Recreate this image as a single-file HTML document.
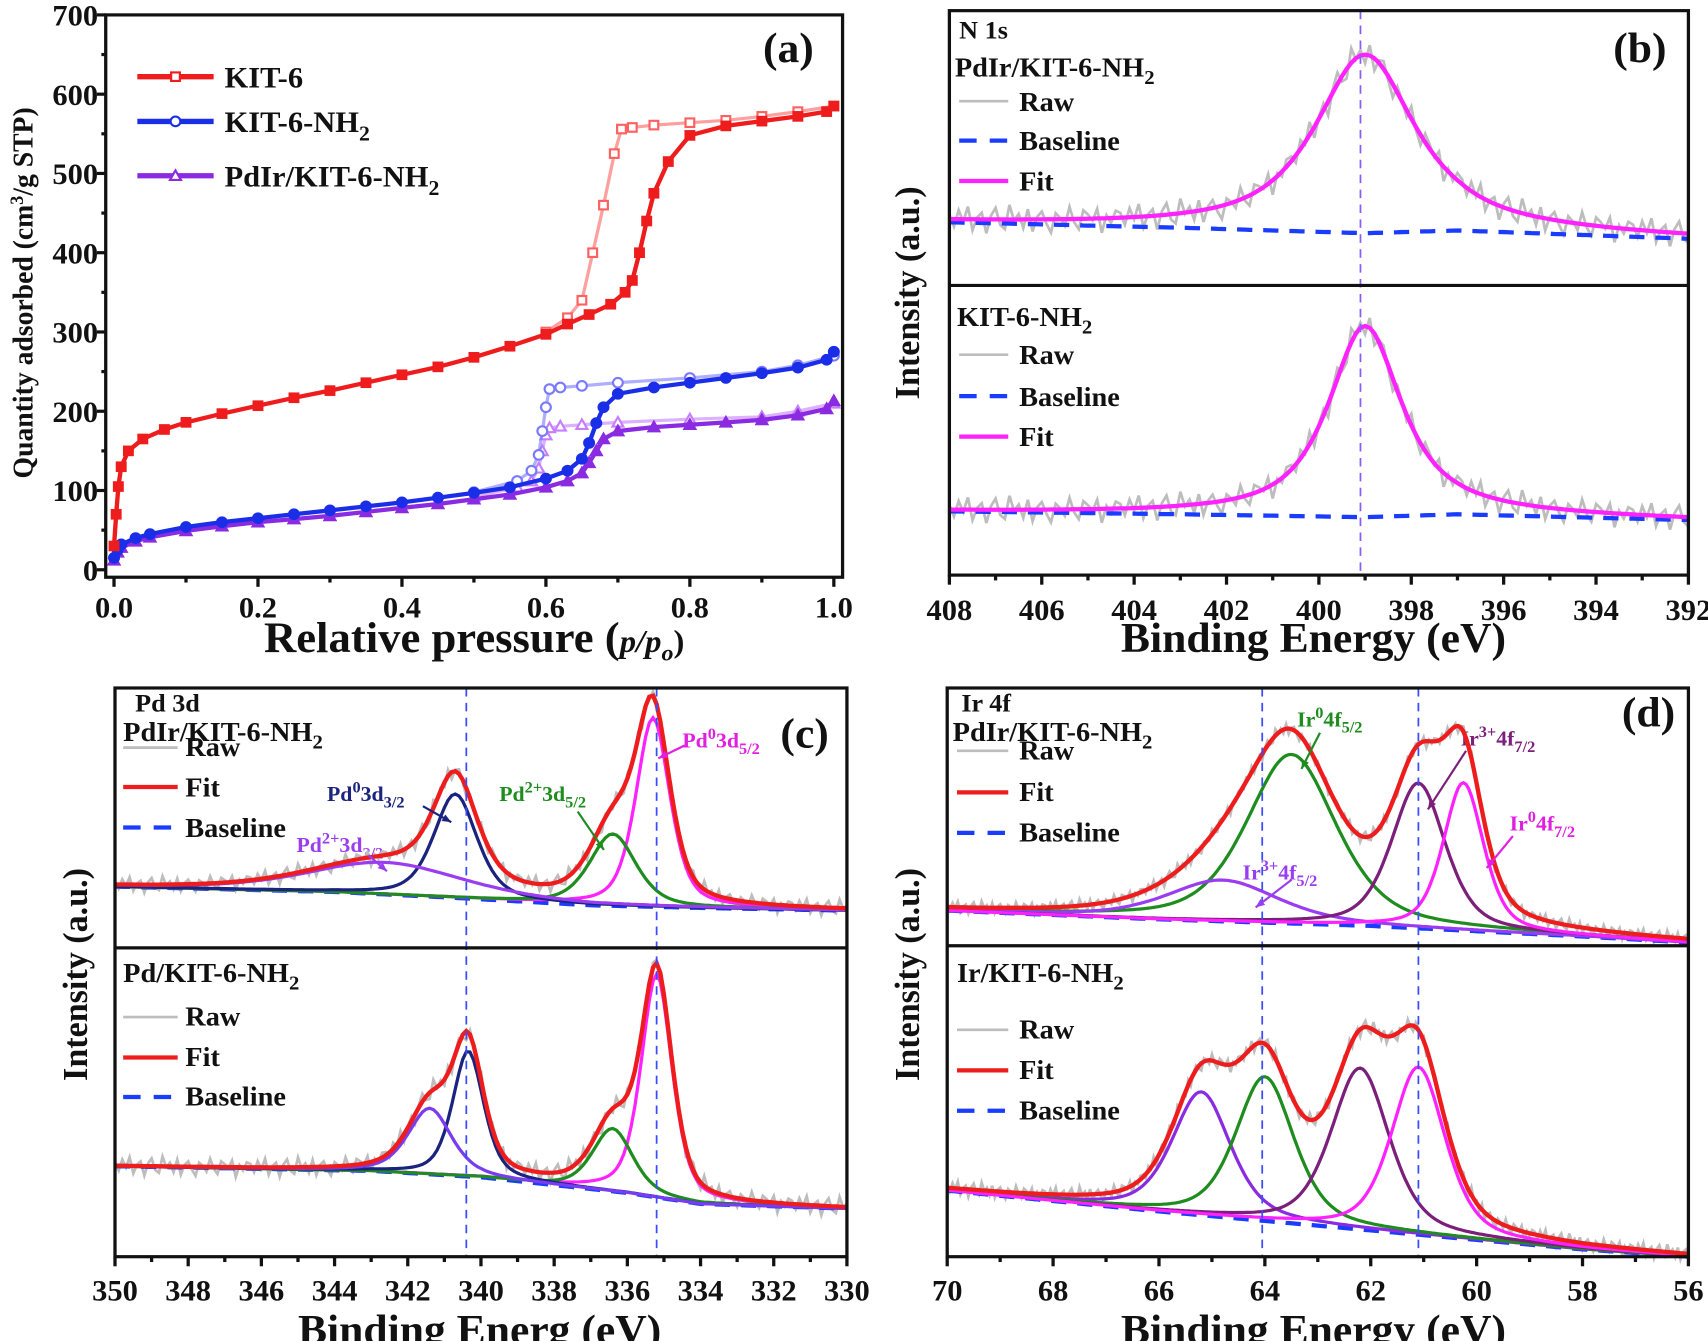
<!DOCTYPE html>
<html><head><meta charset="utf-8"><title>Figure</title>
<style>
html,body{margin:0;padding:0;background:#fff;}
svg{display:block;}
text{font-family:"Liberation Serif",serif;font-weight:bold;fill:#111;}
</style></head>
<body>
<svg id="svgroot" width="1708" height="1341" viewBox="0 0 1708 1341" xmlns="http://www.w3.org/2000/svg">
<g id="fig" transform="scale(1.09,1.065)">

<!-- Panel a static text -->
<text x="30" y="275" font-size="26" text-anchor="middle" transform="rotate(-90 30 275)">Quantity adsorbed (cm<tspan dy="-9" font-size="17">3</tspan><tspan dy="9">/g STP)</tspan></text>
<text x="435" y="612" font-size="41" text-anchor="middle">Relative pressure (<tspan font-style="italic" font-size="30">p/p</tspan><tspan font-style="italic" font-size="22" dy="8">o</tspan><tspan dy="-8" font-size="30">)</tspan></text>
<text x="700" y="58" font-size="40">(a)</text>
<text x="206" y="82" font-size="28">KIT-6</text>
<text x="206" y="124" font-size="28">KIT-6-NH<tspan dy="8" font-size="20">2</tspan></text>
<text x="206" y="175" font-size="28">PdIr/KIT-6-NH<tspan dy="8" font-size="20">2</tspan></text>

<!-- Panel b static text -->
<text x="843" y="275" font-size="32" text-anchor="middle" transform="rotate(-90 843 275)">Intensity (a.u.)</text>
<text x="1205" y="612" font-size="40" text-anchor="middle">Binding Energy (eV)</text>
<text x="1480" y="58" font-size="40">(b)</text>
<text x="880" y="36" font-size="24">N 1s</text>
<text x="876" y="72" font-size="26">PdIr/KIT-6-NH<tspan dy="7" font-size="19">2</tspan></text>
<text x="935" y="104" font-size="26">Raw</text>
<text x="935" y="141" font-size="26">Baseline</text>
<text x="935" y="179" font-size="26">Fit</text>
<text x="878" y="306" font-size="26">KIT-6-NH<tspan dy="7" font-size="19">2</tspan></text>
<text x="935" y="342" font-size="26">Raw</text>
<text x="935" y="381" font-size="26">Baseline</text>
<text x="935" y="419" font-size="26">Fit</text>

<!-- Panel c static text -->
<text x="80" y="915" font-size="32" text-anchor="middle" transform="rotate(-90 80 915)">Intensity (a.u.)</text>
<text x="440" y="1262" font-size="40" text-anchor="middle">Binding Energ (eV)</text>
<text x="716" y="702" font-size="40">(c)</text>
<text x="124" y="668" font-size="24">Pd 3d</text>
<text x="113" y="696" font-size="26">PdIr/KIT-6-NH<tspan dy="7" font-size="19">2</tspan></text>
<text x="170" y="710" font-size="26">Raw</text>
<text x="170" y="748" font-size="26">Fit</text>
<text x="170" y="786" font-size="26">Baseline</text>
<text x="113" y="922" font-size="26">Pd/KIT-6-NH<tspan dy="7" font-size="19">2</tspan></text>
<text x="170" y="963" font-size="26">Raw</text>
<text x="170" y="1001" font-size="26">Fit</text>
<text x="170" y="1038" font-size="26">Baseline</text>
<text x="300" y="752" font-size="20" style="fill:#1a237e">Pd<tspan dy="-8" font-size="15">0</tspan><tspan dy="8">3d</tspan><tspan dy="6" font-size="15">3/2</tspan></text>
<text x="272" y="800" font-size="20" style="fill:#9a3cf0">Pd<tspan dy="-8" font-size="15">2+</tspan><tspan dy="8">3d</tspan><tspan dy="6" font-size="15">3/2</tspan></text>
<text x="458" y="752" font-size="20" style="fill:#1e8c1e">Pd<tspan dy="-8" font-size="15">2+</tspan><tspan dy="8">3d</tspan><tspan dy="6" font-size="15">5/2</tspan></text>
<text x="626" y="702" font-size="20" style="fill:#e020e0">Pd<tspan dy="-8" font-size="15">0</tspan><tspan dy="8">3d</tspan><tspan dy="6" font-size="15">5/2</tspan></text>

<!-- Panel d static text -->
<text x="843" y="915" font-size="32" text-anchor="middle" transform="rotate(-90 843 915)">Intensity (a.u.)</text>
<text x="1205" y="1262" font-size="40" text-anchor="middle">Binding Energy (eV)</text>
<text x="1488" y="682" font-size="40">(d)</text>
<text x="882" y="668" font-size="24">Ir 4f</text>
<text x="874" y="696" font-size="26">PdIr/KIT-6-NH<tspan dy="7" font-size="19">2</tspan></text>
<text x="935" y="713" font-size="26">Raw</text>
<text x="935" y="752" font-size="26">Fit</text>
<text x="935" y="790" font-size="26">Baseline</text>
<text x="878" y="922" font-size="26">Ir/KIT-6-NH<tspan dy="7" font-size="19">2</tspan></text>
<text x="935" y="975" font-size="26">Raw</text>
<text x="935" y="1013" font-size="26">Fit</text>
<text x="935" y="1051" font-size="26">Baseline</text>
<text x="1190" y="682" font-size="20" style="fill:#1e8c1e">Ir<tspan dy="-8" font-size="15">0</tspan><tspan dy="8">4f</tspan><tspan dy="6" font-size="15">5/2</tspan></text>
<text x="1140" y="826" font-size="20" style="fill:#9a3cf0">Ir<tspan dy="-8" font-size="15">3+</tspan><tspan dy="8">4f</tspan><tspan dy="6" font-size="15">5/2</tspan></text>
<text x="1340" y="700" font-size="20" style="fill:#7b1f7b">Ir<tspan dy="-8" font-size="15">3+</tspan><tspan dy="8">4f</tspan><tspan dy="6" font-size="15">7/2</tspan></text>
<text x="1385" y="780" font-size="20" style="fill:#e020e0">Ir<tspan dy="-8" font-size="15">0</tspan><tspan dy="8">4f</tspan><tspan dy="6" font-size="15">7/2</tspan></text>
</g>
</svg>

<script>
// ---------- Panel (a) data ----------
const kit6AdsP = [0,0.003,0.006,0.01,0.02,0.04,0.07,0.1,0.15,0.2,0.25,0.3,0.35,0.4,0.45,0.5,0.55,0.6,0.63,0.66,0.69,0.71,0.72,0.73,0.74,0.75,0.77,0.8,0.85,0.9,0.95,0.99,1.0];
const kit6AdsQ = [30,70,105,130,150,165,177,186,197,207,217,226,236,246,256,268,282,297,310,322,335,350,365,400,440,475,515,548,560,566,572,578,585];
const kit6DesP = [1.0,0.95,0.9,0.85,0.8,0.75,0.72,0.705,0.695,0.68,0.665,0.65,0.63,0.6];
const kit6DesQ = [585,578,572,567,564,561,558,556,525,460,400,340,318,300];
const nh2AdsP = [0,0.005,0.01,0.03,0.05,0.1,0.15,0.2,0.25,0.3,0.35,0.4,0.45,0.5,0.55,0.6,0.63,0.65,0.66,0.67,0.68,0.7,0.75,0.8,0.85,0.9,0.95,0.99,1.0];
const nh2AdsQ = [15,25,32,40,45,54,60,65,70,75,80,85,91,97,104,115,125,140,160,185,205,222,230,236,242,248,255,265,275];
const nh2DesP = [1.0,0.95,0.9,0.8,0.7,0.65,0.62,0.605,0.6,0.595,0.59,0.58,0.56,0.5];
const nh2DesQ = [270,258,250,242,236,232,230,228,205,175,145,125,112,98];
const pdirAdsP = [0,0.005,0.01,0.03,0.05,0.1,0.15,0.2,0.25,0.3,0.35,0.4,0.45,0.5,0.55,0.6,0.63,0.65,0.66,0.67,0.68,0.7,0.75,0.8,0.85,0.9,0.95,0.99,1.0];
const pdirAdsQ = [12,22,28,36,41,49,55,60,64,68,73,78,83,89,95,104,112,122,135,150,165,175,180,183,186,189,195,203,213];
const pdirDesP = [1.0,0.95,0.9,0.8,0.7,0.65,0.62,0.605,0.6,0.595,0.59,0.58,0.56,0.5];
const pdirDesQ = [210,200,193,190,186,183,181,179,170,150,128,112,104,92];
const aXTicks = ["0.0","0.2","0.4","0.6","0.8","1.0"];
const aYTicks = ["0","100","200","300","400","500","600","700"];

// ---------- Panel (b) data (N 1s) ----------
const bTopCenters = [399.0];
const bTopHeights = [65];
const bTopWidths = [2.6];
const bTopBaseE = [408,403,399,397,392];
const bTopBaseI = [23,21,19,20,17];
const bBotCenters = [399.0];
const bBotHeights = [66];
const bBotWidths = [1.9];
const bBotBaseE = [408,403,399,397,392];
const bBotBaseI = [22,21,20,21,19];
const bTicks = ["408","406","404","402","400","398","396","394","392"];

// ---------- Panel (c) data (Pd 3d) ----------
const cTopCenters = [335.3,336.4,340.7,342.6];
const cTopHeights = [71,27,39,12];
const cTopWidths = [1.1,1.5,1.4,5.0];
const cTopBaseE = [350,344,341,337,334,330];
const cTopBaseI = [23,21,19,16,15,14];
const cBotCenters = [335.2,336.4,340.35,341.4];
const cBotHeights = [71,20,40,21];
const cBotWidths = [1.0,1.3,1.0,1.4];
const cBotBaseE = [350,343,340,336,334,330];
const cBotBaseI = [30.5,29,27,22,18.5,17];
const cTicks = ["350","348","346","344","342","340","338","336","334","332","330"];

// ---------- Panel (d) data (Ir 4f) ----------
const dTopCenters = [63.5,64.8,61.1,60.25];
const dTopHeights = [64,15.6,55,56];
const dTopWidths = [2.0,2.5,1.2,0.9];
const dTopBaseE = [70,66,62,58,56];
const dTopBaseI = [13.3,10,7.5,3.5,1.2];
const dBotCenters = [65.2,64.0,62.2,61.1];
const dBotHeights = [39,45.6,51,53];
const dBotWidths = [1.3,1.3,1.3,1.2];
const dBotBaseE = [70,66,62,58,56];
const dBotBaseI = [22.6,16,10,4,1.7];
const dTicks = ["70","68","66","64","62","60","58","56"];

// hand-read noise offsets for raw spectra
const rawNoise = [0.8,-1.2,1.5,-0.4,2.1,-1.8,0.3,1.1,-2.3,0.6,1.9,-0.9,-1.6,2.4,-0.2,0.9,-1.4,1.7,-2.0,0.4,1.3,-0.7,-2.2,1.0,0.2,-1.1,2.0,-0.5,-1.7,1.4,0.7,-0.3,1.6,-2.4,0.5,-0.8,1.2];

const NS = 'http://www.w3.org/2000/svg';
const fig = document.getElementById('fig');
function mk(tag, attrs, parent) {
  const e = document.createElementNS(NS, tag);
  for (const k in attrs) e.setAttribute(k, attrs[k]);
  (parent || fig).appendChild(e);
  return e;
}
function interp(E, es, is) {
  for (let i = 0; i < es.length - 1; i++) {
    const a = es[i], b = es[i + 1];
    if ((E <= a && E >= b) || (E >= a && E <= b)) {
      const t = (E - a) / (b - a);
      return is[i] + t * (is[i + 1] - is[i]);
    }
  }
  return is[is.length - 1];
}
function pv(E, c, h, w, eta) {
  const d = (E - c) / w;
  return h * ((1 - eta) * Math.exp(-4 * Math.LN2 * d * d) + eta / (1 + 4 * d * d));
}

// ---------- Panel (a) ----------
const aL = 97, aT = 14, aR = 773, aB = 542;
function xa(p) { return 104.6 + p * 660.4; }
function ya(v) { return 535 - v * (521 / 700); }

const aFrame = mk('rect', {x: aL, y: aT, width: aR - aL, height: aB - aT, fill: 'none', stroke: '#111', 'stroke-width': 3});


for (let i = 0; i <= 10; i++) {
  const x = xa(i / 10);
  const t = mk('line', {x1: x, y1: aB, x2: x, y2: aB + (i % 2 === 0 ? 9 : 5), stroke: '#111', 'stroke-width': 3});
  
  
}
aXTicks.forEach((lab, i) => {
  const t = mk('text', {x: xa(i * 0.2), y: 580, 'font-size': 28, 'text-anchor': 'middle'});
  t.textContent = lab;
  
  
});
for (let i = 0; i <= 14; i++) {
  const y = ya(i * 50);
  const t = mk('line', {x1: aL, y1: y, x2: aL - (i % 2 === 0 ? 8 : 4), y2: y, stroke: '#111', 'stroke-width': 3});
  
  
}
aYTicks.forEach((lab, i) => {
  const t = mk('text', {x: 90, y: ya(i * 100) + 10, 'font-size': 28, 'text-anchor': 'end'});
  t.textContent = lab;
  
  
});

function marker(kind, cx, cy, color, filled, name) {
  let m;
  const fill = filled ? color : '#fff';
  if (kind === 'square') m = mk('rect', {x: cx - 4, y: cy - 4, width: 8, height: 8, fill: fill, stroke: color, 'stroke-width': 2});
  else if (kind === 'circle') m = mk('circle', {cx: cx, cy: cy, r: 4.5, fill: fill, stroke: color, 'stroke-width': 2});
  else m = mk('polygon', {points: `${cx},${cy - 5} ${cx + 5},${cy + 4} ${cx - 5},${cy + 4}`, fill: fill, stroke: color, 'stroke-width': 2});
  
  
}
function isoSeries(ps, qs, color, kind, filled, name) {
  const d = ps.map((p, i) => (i ? 'L' : 'M') + xa(p).toFixed(1) + ',' + ya(qs[i]).toFixed(1)).join('');
  const path = mk('path', {d: d, fill: 'none', stroke: color, 'stroke-width': filled ? 4 : 3, 'stroke-opacity': filled ? 1 : 0.6});
  
  
  ps.forEach((p, i) => marker(kind, xa(p), ya(qs[i]), color, filled, name + '-point'));
}
isoSeries(pdirDesP, pdirDesQ, '#c77dff', 'triangle', false, 'pdir-desorption');
isoSeries(nh2DesP, nh2DesQ, '#7a7aff', 'circle', false, 'kit6nh2-desorption');
isoSeries(kit6DesP, kit6DesQ, '#ff6060', 'square', false, 'kit6-desorption');
isoSeries(pdirAdsP, pdirAdsQ, '#8a2be2', 'triangle', true, 'pdir-adsorption');
isoSeries(nh2AdsP, nh2AdsQ, '#1a2ee8', 'circle', true, 'kit6nh2-adsorption');
isoSeries(kit6AdsP, kit6AdsQ, '#ee1c1c', 'square', true, 'kit6-adsorption');

[['#ee1c1c', 'square', 72, 'a-legend-kit6-swatch'], ['#1a2ee8', 'circle', 114, 'a-legend-kit6nh2-swatch'], ['#8a2be2', 'triangle', 165, 'a-legend-pdir-swatch']].forEach(s => {
  const l = mk('line', {x1: 126, y1: s[2], x2: 196, y2: s[2], stroke: s[0], 'stroke-width': 5});
  
  
  marker(s[1], 161, s[2], s[0], false, s[3] + '-marker');
});

// ---------- XPS helpers ----------
function xpsFrame(L, T, R, B, split, xmap, ticks, e0, e1, step, labY, prefix) {
  const f = mk('rect', {x: L, y: T, width: R - L, height: B - T, fill: 'none', stroke: '#111', 'stroke-width': 3});
  
  
  const s = mk('line', {x1: L, y1: split, x2: R, y2: split, stroke: '#111', 'stroke-width': 3});
  
  
  const n = Math.round(Math.abs(e1 - e0) / step);
  for (let i = 0; i <= n; i++) {
    const E = e0 - i * step;
    const x = xmap(E);
    const t = mk('line', {x1: x, y1: B, x2: x, y2: B + (i % 2 === 0 ? 9 : 5), stroke: '#111', 'stroke-width': 3});
    
    
  }
  ticks.forEach(lab => {
    const t = mk('text', {x: xmap(parseFloat(lab)), y: labY, 'font-size': 28, 'text-anchor': 'middle'});
    t.textContent = lab;
    
    
  });
}
function pathFrom(es, vals, xmap, ymap) {
  return es.map((E, i) => (i ? 'L' : 'M') + xmap(E).toFixed(1) + ',' + ymap(vals[i]).toFixed(1)).join('');
}
function xpsSub(cfg) {
  const es = [];
  for (let E = cfg.e0; E >= cfg.e1 - 1e-9; E -= cfg.step) es.push(E);
  const base = es.map(E => interp(E, cfg.baseE, cfg.baseI));
  const comps = cfg.centers.map((c, k) => es.map(E => pv(E, c, cfg.heights[k], cfg.widths[k], cfg.eta)));
  const fit = es.map((E, i) => base[i] + comps.reduce((s, cc) => s + cc[i], 0));
  const raw = fit.map((v, i) => v + rawNoise[i % rawNoise.length] * cfg.noise);
  const r = mk('path', {d: pathFrom(es, raw, cfg.xmap, cfg.ymap), fill: 'none', stroke: '#bdbdbd', 'stroke-width': 2.5});
  
  
  const b = mk('path', {d: pathFrom(es, base, cfg.xmap, cfg.ymap), fill: 'none', stroke: '#1a3cff', 'stroke-width': 4, 'stroke-dasharray': '14 10'});
  
  
  comps.forEach((cc, k) => {
    const vals = cc.map((v, i) => v + base[i]);
    const p = mk('path', {d: pathFrom(es, vals, cfg.xmap, cfg.ymap), fill: 'none', stroke: cfg.colors[k], 'stroke-width': 3});
    
    
  });
  const f = mk('path', {d: pathFrom(es, fit, cfg.xmap, cfg.ymap), fill: 'none', stroke: cfg.fitColor, 'stroke-width': 4});
  
  
}
function legendLines(x1, x2, ys, fitColor, order, prefix) {
  order.forEach((kind, i) => {
    let attrs = {x1: x1, y1: ys[i], x2: x2, y2: ys[i], 'stroke-width': kind === 'raw' ? 2.5 : 4};
    if (kind === 'raw') attrs.stroke = '#bdbdbd';
    else if (kind === 'fit') attrs.stroke = fitColor;
    else { attrs.stroke = '#1a3cff'; attrs['stroke-dasharray'] = '16 12'; }
    const l = mk('line', attrs);
    
    
  });
}
function vdash(x, y1, y2, color, name) {
  const l = mk('line', {x1: x, y1: y1, x2: x, y2: y2, stroke: color, 'stroke-width': 1.6, 'stroke-dasharray': '8 6'});
  
  
}
function arrow(x1, y1, x2, y2, color, name) {
  const l = mk('line', {x1: x1, y1: y1, x2: x2, y2: y2, stroke: color, 'stroke-width': 2});
  
  
  const a = Math.atan2(y2 - y1, x2 - x1), s = 9;
  const p = mk('polygon', {points: `${x2},${y2} ${x2 - s * Math.cos(a - 0.4)},${y2 - s * Math.sin(a - 0.4)} ${x2 - s * Math.cos(a + 0.4)},${y2 - s * Math.sin(a + 0.4)}`, fill: color});
  
  
}

// ---------- Panel (b) ----------
function xb(E) { return 871 + (408 - E) * (678 / 16); }
xpsSub({prefix: 'b-top', e0: 408, e1: 392, step: 0.1, xmap: xb, ymap: I => 268 - I * 2.58, baseE: bTopBaseE, baseI: bTopBaseI, centers: bTopCenters, heights: bTopHeights, widths: bTopWidths, eta: 0.85, colors: ['#ff22ff'], fitColor: '#ff22ff', noise: 2.2});
xpsSub({prefix: 'b-bottom', e0: 408, e1: 392, step: 0.1, xmap: xb, ymap: I => 540 - I * 2.72, baseE: bBotBaseE, baseI: bBotBaseI, centers: bBotCenters, heights: bBotHeights, widths: bBotWidths, eta: 0.85, colors: ['#ff22ff'], fitColor: '#ff22ff', noise: 2.0});
vdash(xb(399.1), 10, 540, '#8a5cff', 'b-reference-line');
xpsFrame(871, 10, 1549, 540, 268, xb, bTicks, 408, 392, 1, 582, 'b');
legendLines(880, 925, [95, 132, 170], '#ff22ff', ['raw', 'baseline', 'fit'], 'b-top');
legendLines(880, 925, [333, 372, 410], '#ff22ff', ['raw', 'baseline', 'fit'], 'b-bottom');

// ---------- Panel (c) ----------
function xc(E) { return 105.5 + (350 - E) * (671.5 / 20); }
const cColors = ['#ff22ff', '#1e8c1e', '#1a237e', '#9a3cf0'];
xpsSub({prefix: 'c-top', e0: 350, e1: 330, step: 0.1, xmap: xc, ymap: I => 890 - I * 2.5, baseE: cTopBaseE, baseI: cTopBaseI, centers: cTopCenters, heights: cTopHeights, widths: cTopWidths, eta: 0.5, colors: cColors, fitColor: '#ee1c1c', noise: 1.3});
xpsSub({prefix: 'c-bottom', e0: 350, e1: 330, step: 0.1, xmap: xc, ymap: I => 1185 - I * 2.95, baseE: cBotBaseE, baseI: cBotBaseI, centers: cBotCenters, heights: cBotHeights, widths: cBotWidths, eta: 0.5, colors: ['#ff22ff', '#1e8c1e', '#1a237e', '#7a3cf0'], fitColor: '#ee1c1c', noise: 1.3});
vdash(xc(340.4), 646, 1180, '#3a4cff', 'c-reference-line-3d32');
vdash(xc(335.2), 646, 1180, '#3a4cff', 'c-reference-line-3d52');
xpsFrame(105.5, 646, 777, 1180, 890, xc, cTicks, 350, 330, 1, 1221, 'c');
legendLines(113, 163, [702, 739, 777], '#ee1c1c', ['raw', 'fit', 'baseline'], 'c-top');
legendLines(113, 163, [955, 993, 1030], '#ee1c1c', ['raw', 'fit', 'baseline'], 'c-bottom');
arrow(388, 757, 414, 772, '#1a237e', 'c-arrow-pd0-3d32');
arrow(338, 803, 355, 818, '#9a3cf0', 'c-arrow-pd2-3d32');
arrow(530, 762, 554, 798, '#1e8c1e', 'c-arrow-pd2-3d52');
arrow(628, 700, 604, 712, '#e020e0', 'c-arrow-pd0-3d52');

// ---------- Panel (d) ----------
function xd(E) { return 869 + (70 - E) * (680 / 14); }
const dColors = ['#1e8c1e', '#9a3cf0', '#7b1f7b', '#ff22ff'];
xpsSub({prefix: 'd-top', e0: 70, e1: 56, step: 0.05, xmap: xd, ymap: I => 888 - I * 2.48, baseE: dTopBaseE, baseI: dTopBaseI, centers: dTopCenters, heights: dTopHeights, widths: dTopWidths, eta: 0.5, colors: dColors, fitColor: '#ee1c1c', noise: 1.0});
xpsSub({prefix: 'd-bottom', e0: 70, e1: 56, step: 0.05, xmap: xd, ymap: I => 1185 - I * 2.97, baseE: dBotBaseE, baseI: dBotBaseI, centers: dBotCenters, heights: dBotHeights, widths: dBotWidths, eta: 0.5, colors: ['#8a2be2', '#1e8c1e', '#7b1f7b', '#ff22ff'], fitColor: '#ee1c1c', noise: 1.0});
vdash(xd(64.05), 646, 1180, '#3a4cff', 'd-reference-line-4f52');
vdash(xd(61.1), 646, 1180, '#3a4cff', 'd-reference-line-4f72');
xpsFrame(869, 646, 1549, 1180, 888, xd, dTicks, 70, 56, 1, 1221, 'd');
legendLines(878, 925, [705, 744, 782], '#ee1c1c', ['raw', 'fit', 'baseline'], 'd-top');
legendLines(878, 925, [967, 1005, 1043], '#ee1c1c', ['raw', 'fit', 'baseline'], 'd-bottom');
arrow(1211, 688, 1194, 722, '#1e8c1e', 'd-arrow-ir0-4f52');
arrow(1185, 826, 1152, 852, '#9a3cf0', 'd-arrow-ir3-4f52');
arrow(1345, 705, 1310, 760, '#7b1f7b', 'd-arrow-ir3-4f72');
arrow(1388, 785, 1364, 815, '#e020e0', 'd-arrow-ir0-4f72');
</script>
</body></html>
